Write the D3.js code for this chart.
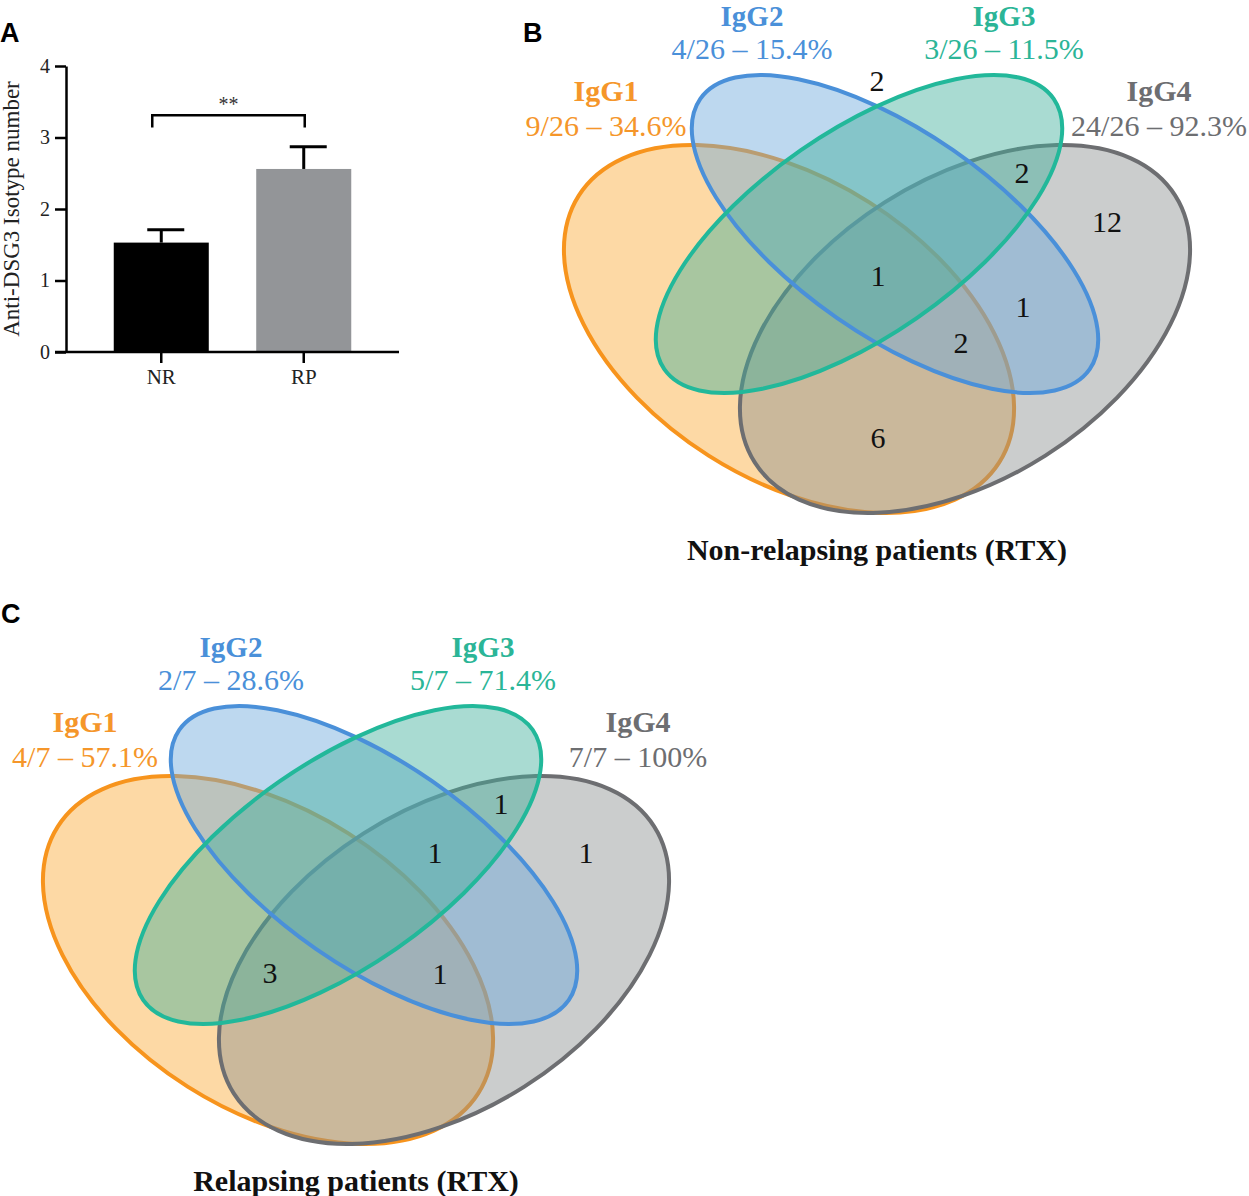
<!DOCTYPE html>
<html>
<head>
<meta charset="utf-8">
<script src="https://cdn.jsdelivr.net/npm/d3@7"></script>
<style>
  body { margin: 0; background: #fff; }
  text { font-family: "Liberation Serif", "Times New Roman", serif; }
  .panel-letter { font-family: "Liberation Sans", Arial, sans-serif; font-weight: bold; font-size: 27px; }
</style>
</head>
<body>
<div class="chart"></div>
<script>
// ---- panel A data
var groups = ["NR", "RP"];
var isotypeMeans = [1.53, 2.56];
var isotypeSems = [0.18, 0.31];
var yTicks = [0, 1, 2, 3, 4];
var sigLabel = "**";

// ---- panels B / C data
var isotypes = ["IgG1", "IgG2", "IgG3", "IgG4"];

var nrTotal = 26;
var nrPositive = [9, 4, 3, 24];
var nrPercent = ["34.6%", "15.4%", "11.5%", "92.3%"];
var nrRegions = ["none", "IgG3&IgG4", "IgG4", "IgG1&IgG2&IgG3&IgG4", "IgG2&IgG4", "IgG1&IgG2&IgG4", "IgG1&IgG4"];
var nrRegionCounts = [2, 2, 12, 1, 1, 2, 6];

var rpTotal = 7;
var rpPositive = [4, 2, 5, 7];
var rpPercent = ["57.1%", "28.6%", "71.4%", "100%"];
var rpRegions = ["IgG3&IgG4", "IgG2&IgG3&IgG4", "IgG4", "IgG1&IgG3&IgG4", "IgG1&IgG2&IgG4"];
var rpRegionCounts = [1, 1, 1, 3, 1];

var svgWidth = 1249;
var svgHeight = 1196;

var svg = d3.select(".chart")
    .append("svg")
    .attr("width", svgWidth)
    .attr("height", svgHeight);

// panel letters
svg.append("text").attr("class", "panel-letter").attr("x", 0).attr("y", 42).text("A");
svg.append("text").attr("class", "panel-letter").attr("x", 523).attr("y", 42).text("B");
svg.append("text").attr("class", "panel-letter").attr("x", 1).attr("y", 623).text("C");

// ================= Panel A: bar chart =================
var xBand = d3.scaleBand()
    .domain(groups)
    .range([90, 375])
    .paddingInner(0.333)
    .paddingOuter(0.1667);

var yLinear = d3.scaleLinear()
    .domain([0, 4])
    .range([352, 66]);

var barColors = ["#000000", "#939598"];

var chartA = svg.append("g");

chartA.selectAll("rect.bar")
    .data(groups)
    .enter()
    .append("rect")
    .attr("class", "bar")
    .attr("x", d => xBand(d))
    .attr("width", xBand.bandwidth())
    .attr("y", (d, i) => yLinear(isotypeMeans[i]))
    .attr("height", (d, i) => yLinear(0) - yLinear(isotypeMeans[i]))
    .attr("fill", (d, i) => barColors[i]);

// error bars (upper only)
groups.forEach(function(g, i) {
    var cx = xBand(g) + xBand.bandwidth() / 2;
    var top = yLinear(isotypeMeans[i] + isotypeSems[i]);
    chartA.append("line")
        .attr("x1", cx).attr("x2", cx)
        .attr("y1", yLinear(isotypeMeans[i])).attr("y2", top)
        .attr("stroke", "#000").attr("stroke-width", 3);
    chartA.append("line")
        .attr("x1", cx - 14).attr("x2", cx + 23)
        .attr("y1", top).attr("y2", top)
        .attr("stroke", "#000").attr("stroke-width", 3);
});

// y axis
var leftAxis = d3.axisLeft(yLinear)
    .tickValues(yTicks)
    .tickFormat(d3.format("d"))
    .tickSize(11)
    .tickSizeOuter(0)
    .tickPadding(5);

var yAxis = chartA.append("g")
    .attr("transform", "translate(66,0)")
    .call(leftAxis);
yAxis.select(".domain").attr("stroke-width", 2.5);
yAxis.selectAll(".tick line").attr("stroke-width", 2.5);
yAxis.selectAll(".tick text")
    .attr("font-family", "Liberation Serif")
    .attr("font-size", 20)
    .attr("fill", "#222");

// x axis
var bottomAxis = d3.axisBottom(xBand)
    .tickSize(11)
    .tickSizeOuter(0)
    .tickPadding(6);

var xAxis = chartA.append("g")
    .attr("transform", "translate(0,352)")
    .call(bottomAxis);
xAxis.select(".domain").remove();
xAxis.selectAll(".tick line").attr("stroke-width", 2.5);
xAxis.selectAll(".tick text")
    .attr("font-family", "Liberation Serif")
    .attr("font-size", 21)
    .attr("fill", "#222");
xAxis.append("line")
    .attr("x1", 55).attr("x2", 399)
    .attr("y1", 0).attr("y2", 0)
    .attr("stroke", "#000").attr("stroke-width", 2.5);

// y axis label
chartA.append("text")
    .attr("transform", "rotate(-90)")
    .attr("x", -yLinear(2))
    .attr("y", 19)
    .attr("text-anchor", "middle")
    .attr("font-size", 23)
    .attr("fill", "#222")
    .text("Anti-DSG3 Isotype number");

// significance bracket
var bx1 = xBand("NR") + xBand.bandwidth() / 2 - 9;
var bx2 = xBand("RP") + xBand.bandwidth() / 2 + 1;
var by = yLinear(3.31);
chartA.append("path")
    .attr("d", `M${bx1},${yLinear(3.14)} V${by} H${bx2} V${yLinear(3.14)}`)
    .attr("fill", "none")
    .attr("stroke", "#000")
    .attr("stroke-width", 2.5);
chartA.append("text")
    .attr("x", (bx1 + bx2) / 2)
    .attr("y", by - 4)
    .attr("text-anchor", "middle")
    .attr("font-size", 20)
    .attr("fill", "#333")
    .text(sigLabel);

// ================= Panels B and C: Venn diagrams =================
// shape layout in local units around each diagram's centre
var vennShapes = {
    IgG1: { cx: -88, cy: 35, rx: 249, ry: 150, rot: 32.4, stroke: "#f7941d", fill: "#faaa37" },
    IgG4: { cx: 88, cy: 35, rx: 249, ry: 150, rot: -32.4, stroke: "#6d6e71", fill: "#8b9090" },
    IgG2: { cx: 18, cy: -60, rx: 237, ry: 102, rot: 34.75, stroke: "#4a90d9", fill: "#6ca8db" },
    IgG3: { cx: -18, cy: -60, rx: 237, ry: 102, rot: -34.75, stroke: "#22b89a", fill: "#40af9b" }
};
var labelColors = { IgG1: "#f5962a", IgG2: "#4a90d9", IgG3: "#2bb597", IgG4: "#6d6e71" };
var labelX = { IgG1: -271, IgG2: -125, IgG3: 127, IgG4: 282 };
var labelY = { IgG1: -193, IgG2: -268, IgG3: -268, IgG4: -193 };
var regionPos = {
    "none": [0, -214],
    "IgG3&IgG4": [145, -122],
    "IgG4": [230, -73],
    "IgG2&IgG3&IgG4": [79, -73],
    "IgG1&IgG2&IgG3&IgG4": [1, -19],
    "IgG2&IgG4": [146, 12],
    "IgG1&IgG2&IgG4": [84, 48],
    "IgG1&IgG3&IgG4": [-86, 47],
    "IgG1&IgG4": [1, 143]
};

function drawVenn(ox, oy, positive, total, percent, regions, counts, title) {
    var xs = d3.scaleLinear().domain([0, 1]).range([ox, ox + 1]);
    var ys = d3.scaleLinear().domain([0, 1]).range([oy, oy + 1]);
    var g = svg.append("g");

    function shape(name, withFill, withStroke) {
        var s = vennShapes[name];
        g.append("ellipse")
            .attr("cx", xs(s.cx))
            .attr("cy", ys(s.cy))
            .attr("rx", s.rx)
            .attr("ry", s.ry)
            .attr("transform", `rotate(${s.rot},${xs(s.cx)},${ys(s.cy)})`)
            .attr("fill", withFill ? s.fill : "none")
            .attr("fill-opacity", 0.45)
            .attr("stroke", withStroke ? s.stroke : "none")
            .attr("stroke-width", 4);
    }
    shape("IgG1", true, true);
    shape("IgG4", true, true);
    shape("IgG2", true, false);
    shape("IgG3", true, false);
    shape("IgG2", false, true);
    shape("IgG3", false, true);

    // set labels
    isotypes.forEach(function(name, i) {
        var top = labelY[name] < -200;
        g.append("text")
            .attr("x", xs(labelX[name]))
            .attr("y", ys(labelY[name]))
            .attr("text-anchor", "middle")
            .attr("font-size", top ? 29 : 30)
            .attr("font-weight", "bold")
            .attr("fill", labelColors[name])
            .text(name);
        g.append("text")
            .attr("x", xs(labelX[name]))
            .attr("y", ys(labelY[name] + (top ? 33 : 35)))
            .attr("text-anchor", "middle")
            .attr("font-size", 30)
            .attr("fill", labelColors[name])
            .text(`${positive[i]}/${total} \u2013 ${percent[i]}`);
    });

    // region counts
    g.selectAll("text.count")
        .data(regions)
        .enter()
        .append("text")
        .attr("class", "count")
        .attr("x", d => xs(regionPos[d][0]))
        .attr("y", d => ys(regionPos[d][1]))
        .attr("dy", "0.35em")
        .attr("text-anchor", "middle")
        .attr("font-size", 30)
        .attr("fill", "#111")
        .text((d, i) => counts[i]);

    g.append("text")
        .attr("x", xs(0))
        .attr("y", ys(266))
        .attr("text-anchor", "middle")
        .attr("font-size", 30)
        .attr("font-weight", "bold")
        .attr("fill", "#111")
        .text(title);
}

drawVenn(877, 294, nrPositive, nrTotal, nrPercent, nrRegions, nrRegionCounts, "Non-relapsing patients (RTX)");
drawVenn(356, 925, rpPositive, rpTotal, rpPercent, rpRegions, rpRegionCounts, "Relapsing patients (RTX)");
</script>
</body>
</html>
